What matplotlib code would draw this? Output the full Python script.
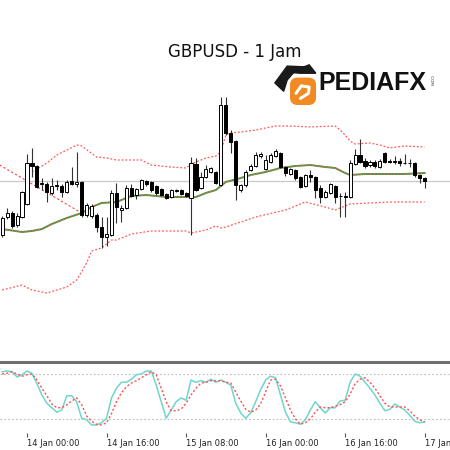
import matplotlib.pyplot as plt
from matplotlib.patches import FancyBboxPatch, Polygon
import numpy as np

# hourly bars, counted in hours from 14 Jan 00:00
hours = np.arange(-5, 81)

opens = [1.2965, 1.2983, 1.2987, 1.2975, 1.2983,
         1.2996, 1.3037, 1.3034, 1.3016, 1.3016,
         1.3007, 1.3014, 1.3014, 1.3008, 1.3019,
         1.3016, 1.3018, 1.2985, 1.2984, 1.2985,
         1.2973, 1.2963, 1.2965, 1.3007, 1.2990,
         1.2992, 1.3012, 1.3005, 1.3011, 1.3019,
         1.3018, 1.3014, 1.3011, 1.3006, 1.3003,
         1.3009, 1.3010, 1.3007, 1.3002, 1.3036,
         1.3012, 1.3023, 1.3028, 1.3028, 1.3015,
         1.3095, 1.3067, 1.3059, 1.3010, 1.3015,
         1.3030, 1.3034, 1.3044, 1.3031, 1.3038,
         1.3044, 1.3047, 1.3033, 1.3026, 1.3030,
         1.3023, 1.3014, 1.3025, 1.3023, 1.3012,
         1.3003, 1.3007, 1.3014, 1.3004, 1.3004,
         1.3003, 1.3036, 1.3045, 1.3039, 1.3035,
         1.3038, 1.3033, 1.3047, 1.3039, 1.3039,
         1.3039, 1.3037, 1.3037, 1.3037, 1.3025,
         1.3022]
highs = [1.2984, 1.2992, 1.2989, 1.2987, 1.3009,
         1.3046, 1.3052, 1.3035, 1.3022, 1.3018,
         1.3022, 1.3020, 1.3016, 1.3020, 1.3033,
         1.3048, 1.3019, 1.2997, 1.2996, 1.2987,
         1.2983, 1.2983, 1.3010, 1.3017, 1.2995,
         1.3015, 1.3016, 1.3012, 1.3021, 1.3020,
         1.3019, 1.3015, 1.3012, 1.3007, 1.3011,
         1.3011, 1.3011, 1.3008, 1.3043, 1.3042,
         1.3028, 1.3035, 1.3033, 1.3029, 1.3103,
         1.3103, 1.3070, 1.3060, 1.3016, 1.3030,
         1.3036, 1.3048, 1.3048, 1.3045, 1.3047,
         1.3051, 1.3048, 1.3034, 1.3032, 1.3031,
         1.3024, 1.3026, 1.3030, 1.3024, 1.3015,
         1.3010, 1.3017, 1.3015, 1.3007, 1.3008,
         1.3040, 1.3051, 1.3061, 1.3042, 1.3040,
         1.3040, 1.3041, 1.3048, 1.3041, 1.3044,
         1.3042, 1.3046, 1.3041, 1.3038, 1.3026,
         1.3023]
lows = [1.2963, 1.2981, 1.2972, 1.2973, 1.2982,
        1.2995, 1.3023, 1.3012, 1.3010, 1.2998,
        1.3005, 1.3010, 1.3003, 1.3007, 1.3015,
        1.3013, 1.2983, 1.2983, 1.2982, 1.2968,
        1.2952, 1.2954, 1.2964, 1.2977, 1.2978,
        1.2991, 1.3003, 1.3001, 1.3010, 1.3014,
        1.3008, 1.3005, 1.3004, 1.3001, 1.3002,
        1.3008, 1.3005, 1.3003, 1.2965, 1.3009,
        1.3011, 1.3022, 1.3027, 1.3016, 1.3014,
        1.3065, 1.3047, 1.3000, 1.3008, 1.3013,
        1.3029, 1.3033, 1.3042, 1.3030, 1.3037,
        1.3043, 1.3032, 1.3024, 1.3025, 1.3020,
        1.3012, 1.3013, 1.3018, 1.3002, 1.2997,
        1.3002, 1.3006, 1.2997, 1.2983, 1.2983,
        1.3002, 1.3035, 1.3037, 1.3032, 1.3033,
        1.3032, 1.3032, 1.3037, 1.3037, 1.3036,
        1.3034, 1.3036, 1.3033, 1.3023, 1.3017,
        1.3012]
closes = [1.2982, 1.2987, 1.2974, 1.2984, 1.3008,
          1.3037, 1.3034, 1.3013, 1.3017, 1.3008,
          1.3014, 1.3015, 1.3008, 1.3018, 1.3016,
          1.3018, 1.2985, 1.2995, 1.2994, 1.2973,
          1.2963, 1.2966, 1.3007, 1.2993, 1.2992,
          1.3012, 1.3004, 1.3011, 1.3020, 1.3016,
          1.3010, 1.3007, 1.3005, 1.3002, 1.3010,
          1.3010, 1.3006, 1.3004, 1.3037, 1.3010,
          1.3023, 1.3031, 1.3032, 1.3017, 1.3095,
          1.3067, 1.3058, 1.3015, 1.3015, 1.3028,
          1.3034, 1.3045, 1.3046, 1.3040, 1.3045,
          1.3049, 1.3033, 1.3027, 1.3031, 1.3022,
          1.3013, 1.3025, 1.3023, 1.3010, 1.3003,
          1.3008, 1.3016, 1.3003, 1.3004, 1.3003,
          1.3037, 1.3045, 1.3038, 1.3034, 1.3038,
          1.3034, 1.3039, 1.3038, 1.3038, 1.3038,
          1.3037, 1.3037, 1.3037, 1.3025, 1.3022,
          1.3019]

# bollinger bands
mid_h = [-5, -1, 1, 3, 5, 8, 11, 13, 15, 18, 21, 24, 28, 32, 34, 36, 38, 40,
         43, 45, 48, 51, 54, 57, 60, 62, 64, 65, 68, 72, 76, 80]
mid_band = [1.2971, 1.2968, 1.2969, 1.2971, 1.2976, 1.2982, 1.2987, 1.2993,
            1.2997, 1.2998, 1.3004, 1.3005, 1.3003, 1.3003, 1.3003, 1.3007,
            1.3010, 1.3018, 1.3022, 1.3025, 1.3028, 1.3032, 1.3034, 1.3035,
            1.3033, 1.3032, 1.3027, 1.3025, 1.3026, 1.3026, 1.3026, 1.3027]
up_h = [1, 4, 6, 8, 10, 11, 14, 16, 18, 21, 23, 25, 29, 32, 33, 36, 38, 39,
        40, 41, 43, 46, 50, 53, 57, 62, 63, 64, 65, 66, 69, 71, 73, 76, 80]
up_band = [1.3028, 1.3037, 1.3045, 1.3050, 1.3055, 1.3054, 1.3043, 1.3042,
           1.3040, 1.3040, 1.3040, 1.3035, 1.3033, 1.3032, 1.3036, 1.3042,
           1.3044, 1.3048, 1.3065, 1.3067, 1.3068, 1.3070, 1.3074, 1.3074,
           1.3073, 1.3074, 1.3070, 1.3065, 1.3059, 1.3056, 1.3057, 1.3055,
           1.3052, 1.3054, 1.3053]
lo_h = [-5, -1, 1, 4, 8, 10, 12, 13, 15, 17, 18, 21, 25, 32, 33, 35, 36, 38,
        39, 40, 46, 52, 56, 60, 62, 65, 69, 73, 80]
lo_band = [1.2910, 1.2915, 1.2910, 1.2907, 1.2913, 1.2920, 1.2937, 1.2949,
           1.2952, 1.2960, 1.2960, 1.2966, 1.2969, 1.2969, 1.2967, 1.2969,
           1.2970, 1.2974, 1.2972, 1.2973, 1.2983, 1.2990, 1.2998, 1.2993,
           1.2990, 1.2996, 1.2997, 1.2998, 1.2998]

# trend line end points
trend_h = [-5.5, 11]
trend_px = [1.3035, 1.2987]

# stochastic %K and %D
k_line = [83, 84, 83, 76, 79, 84, 81, 67, 52, 41, 35, 29, 32, 51, 51, 43, 21,
          19, 12, 12, 15, 21, 48, 61, 69, 69, 73, 79, 80, 84, 84, 65, 43, 21,
          32, 43, 48, 45, 72, 69, 71, 69, 73, 69, 72, 69, 65, 41, 28, 21, 28,
          43, 59, 72, 77, 75, 52, 29, 16, 15, 13, 19, 32, 43, 35, 28, 35, 35,
          44, 45, 69, 80, 77, 69, 61, 52, 41, 31, 33, 40, 36, 32, 25, 17, 15,
          16]
d_line = [80, 81, 83, 80, 77, 79, 80, 72, 61, 51, 40, 35, 35, 39, 44, 48, 39,
          24, 17, 13, 12, 15, 27, 43, 55, 63, 68, 71, 75, 79, 83, 79, 61, 43,
          31, 31, 33, 41, 52, 61, 68, 69, 71, 71, 71, 69, 68, 56, 44, 33, 29,
          32, 40, 56, 72, 73, 64, 48, 32, 20, 13, 15, 20, 29, 36, 35, 35, 37,
          39, 43, 53, 67, 73, 75, 69, 61, 51, 41, 36, 36, 36, 36, 31, 24, 19,
          16]

tick_h = [0, 16, 32, 48, 64, 80]
tick_labels = ["14 Jan 00:00", "14 Jan 16:00", "15 Jan 08:00",
               "16 Jan 00:00", "16 Jan 16:00", "17 Jan"]

fig = plt.figure(figsize=(4.5, 4.5), dpi=100)
xlim = (-5.43, 85.1)

ax = fig.add_axes([0, 88 / 450, 1, 362 / 450])
ax.set_xlim(*xlim)
ax.set_ylim(1.2838, 1.3200)
ax.axis("off")

ax.axhline(closes[-1], color="#c8c8c8", lw=0.9, zorder=1)

red = "#ff5a5a"
ax.plot(up_h, up_band, color=red, lw=0.9, ls=(0, (1.5, 1.5)), zorder=2)
ax.plot(lo_h, lo_band, color=red, lw=0.9, ls=(0, (1.5, 1.5)), zorder=2)
ax.plot(mid_h, mid_band, color="#3c9a3c", lw=1.4, zorder=2)
ax.plot(mid_h, mid_band, color=red, lw=0.8, ls=(0, (1.5, 1.5)), zorder=2)
ax.plot(trend_h, trend_px, color="#ff4040", lw=0.8, ls=(0, (2, 2)), zorder=2)

o = np.array(opens)
c = np.array(closes)
ax.vlines(hours, lows, highs, color="#333333", lw=0.8, zorder=3)
face = ["white" if cc >= oo else "black" for oo, cc in zip(o, c)]
ax.bar(hours, np.abs(c - o), bottom=np.minimum(o, c), width=0.62,
       color=face, edgecolor="black", linewidth=0.7, zorder=4)

# title and logo
fig.text(235 / 450, 1 - 52 / 450, "GBPUSD - 1 Jam", ha="center", va="center",
         fontsize=12, color="#111111")
fig.text(318 / 450, 1 - 83 / 450, "PEDIAFX", ha="left", va="center",
         fontsize=18, fontweight="bold", family="Liberation Sans",
         color="#111111")
fig.text(431 / 450, 1 - 80 / 450, ".COM", ha="center", va="center",
         fontsize=3, rotation=-90, color="#333333")

lax = fig.add_axes([274 / 450, 1 - 106 / 450, 44 / 450, 42 / 450])
lax.set_xlim(0, 1)
lax.set_ylim(0, 1)
lax.axis("off")
lax.add_patch(FancyBboxPatch((0.38, 0.04), 0.56, 0.62,
                             boxstyle="round,pad=0,rounding_size=0.16",
                             color="#f28a24"))
lax.add_patch(Polygon([[0.02, 0.55], [0.30, 0.95], [0.75, 0.93],
                       [0.45, 0.80], [0.30, 0.62], [0.22, 0.35]],
                      color="#1a1a1a"))
lax.add_patch(Polygon([[0.35, 0.80], [0.80, 0.98], [0.95, 0.78],
                       [0.60, 0.78]], color="#1a1a1a"))
lax.plot([0.50, 0.62, 0.80, 0.78, 0.60], [0.30, 0.48, 0.45, 0.30, 0.18],
         color="white", lw=2.2, solid_capstyle="round")

# stochastic sub window
ax2 = fig.add_axes([0, 17 / 450, 1, 71 / 450])
ax2.set_xlim(*xlim)
ax2.set_ylim(1.3, 96)
for side in ["left", "right", "bottom"]:
    ax2.spines[side].set_visible(False)
ax2.spines["top"].set_color("#707070")
ax2.spines["top"].set_linewidth(2.2)
ax2.axhline(80, color="#bdbdbd", lw=0.8, ls=(0, (1.5, 2)))
ax2.axhline(20, color="#bdbdbd", lw=0.8, ls=(0, (1.5, 2)))
ax2.plot(hours, k_line, color="#6fd6cc", lw=1.1)
ax2.plot(hours, d_line, color="#ff5050", lw=1.0, ls=(0, (1.5, 1.5)))
ax2.set_yticks([])
ax2.set_xticks(tick_h)
ax2.set_xticklabels(tick_labels, ha="left", fontsize=6, color="#222222")
ax2.tick_params(axis="x", length=3, width=0.8, color="#555555", pad=1.5)

fig.savefig("out.png", dpi=100)
